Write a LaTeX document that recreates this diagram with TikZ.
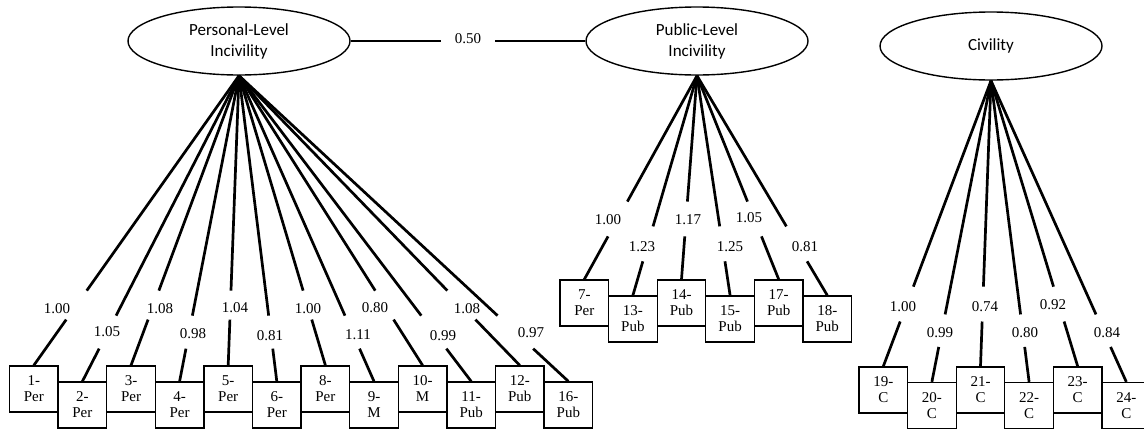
\documentclass[tikz,border=0pt]{standalone}
\usepackage{fontspec}
\setmainfont{Liberation Serif}
\newfontfamily\carl{Carlito}
\usetikzlibrary{shapes.geometric,calc}
\begin{document}
\begin{tikzpicture}[x=1pt,y=-1pt,
 latent/.style={ellipse,draw,line width=1.4pt,minimum width=222pt,minimum height=68pt,inner sep=0pt,align=center,font=\carl\fontsize{17}{21}\selectfont},
 obs/.style={draw,line width=1.3pt,minimum width=48.6pt,minimum height=46pt,inner sep=0pt,align=center,font=\fontsize{15}{16}\selectfont},
 load/.style={line width=2.7pt},
 lab/.style={inner sep=0pt,font=\fontsize{15}{16}\selectfont}]
\useasboundingbox (0,0) rectangle (1144,429);

\node[latent] (P) at (239,41) {Personal-Level\\Incivility};
\node[latent] (U) at (697,41) {Public-Level\\Incivility};
\node[latent] (C) at (991,46) {Civility};

\draw[load] (P) -- node[lab,fill=white,minimum width=54pt,minimum height=10pt,yshift=2pt] (cor) {0.50} (U);

% Personal-level indicators
\foreach \t/\ld/\lx/\ly [count=\i from 0] in {
 {1-\\Per}/1.00/57/309, {2-\\Per}/1.05/107/332, {3-\\Per}/1.08/160/309,
 {4-\\Per}/0.98/193/334, {5-\\Per}/1.04/235/308, {6-\\Per}/0.81/270/336,
 {8-\\Per}/1.00/308/309, {9-\\M}/1.11/358/335, {10-\\M}/0.80/375/308,
 {11-\\Pub}/0.99/443/336, {12-\\Pub}/1.08/467/309, {16-\\Pub}/0.97/531/333}{
 \pgfmathsetmacro\xc{33.8+48.6*\i}
 \pgfmathsetmacro\yc{mod(\i,2)==0 ? 389 : 405}
 \pgfmathsetmacro\fa{mod(\i,2)==0 ? 0.742 : 0.785}
 \pgfmathsetmacro\fb{mod(\i,2)==0 ? 0.842 : 0.893}
 \node[obs] (p\i) at (\xc,\yc) {\t};
 \draw[load] (P.south) -- ($(P.south)!\fa!(p\i.north)$) ($(P.south)!\fb!(p\i.north)$) -- (p\i.north);
 \node[lab] (pl\i) at (\lx,\ly) {\ld};
}

% Public-level indicators
\foreach \t/\ld/\lx/\ly [count=\i from 0] in {
 {7-\\Per}/1.00/608/220, {13-\\Pub}/1.23/642/247, {14-\\Pub}/1.17/688/220,
 {15-\\Pub}/1.25/730/247, {17-\\Pub}/1.05/749/218, {18-\\Pub}/0.81/805/247}{
 \pgfmathsetmacro\xc{584.3+48.6*\i}
 \pgfmathsetmacro\yc{mod(\i,2)==0 ? 303 : 319}
 \pgfmathsetmacro\fa{mod(\i,2)==0 ? 0.618 : 0.686}
 \pgfmathsetmacro\fb{mod(\i,2)==0 ? 0.789 : 0.845}
 \node[obs] (u\i) at (\xc,\yc) {\t};
 \draw[load] (U.south) -- ($(U.south)!\fa!(u\i.north)$) ($(U.south)!\fb!(u\i.north)$) -- (u\i.north);
 \node[lab] (ul\i) at (\lx,\ly) {\ld};
}

% Civility indicators
\foreach \t/\ld/\lx/\ly [count=\i from 0] in {
 {19-\\C}/1.00/903/307, {20-\\C}/0.99/940/333, {21-\\C}/0.74/985/307,
 {22-\\C}/0.80/1025/333, {23-\\C}/0.92/1053/305, {24-\\C}/0.84/1107/333}{
 \pgfmathsetmacro\xc{883.3+48.6*\i}
 \pgfmathsetmacro\yc{mod(\i,2)==0 ? 390 : 405.5}
 \pgfmathsetmacro\fa{mod(\i,2)==0 ? 0.721 : 0.776}
 \pgfmathsetmacro\fb{mod(\i,2)==0 ? 0.843 : 0.884}
 \node[obs] (c\i) at (\xc,\yc) {\t};
 \draw[load] (C.south) -- ($(C.south)!\fa!(c\i.north)$) ($(C.south)!\fb!(c\i.north)$) -- (c\i.north);
 \node[lab] (cl\i) at (\lx,\ly) {\ld};
}
\end{tikzpicture}
\end{document}
